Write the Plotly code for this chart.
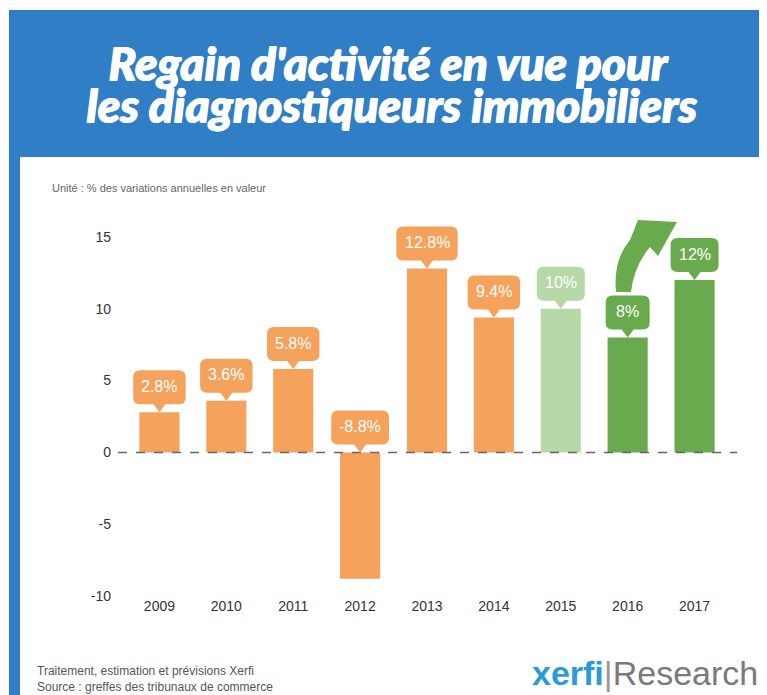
import plotly.graph_objects as go

years = ["2009", "2010", "2011", "2012", "2013", "2014", "2015", "2016", "2017"]
values = [2.8, 3.6, 5.8, -8.8, 12.8, 9.4, 10, 8, 12]
labels = ["2.8%", "3.6%", "5.8%", "-8.8%", "12.8%", "9.4%", "10%", "8%", "12%"]
ORANGE = "#F4A25C"
LIGHTGREEN = "#B7D9A8"
GREEN = "#6AAA4E"
colors = [ORANGE] * 6 + [LIGHTGREEN] + [GREEN] * 2
ytick_vals = [-10, -5, 0, 5, 10, 15]
ytick_text = ["-10", "-5", "0", "5", "10", "15"]

OFF = 8  # page offset of the figure in the screenshot
YMIN, YMAX = -10, 16.6
W, H = 767 - OFF, 695 - OFF
L = 126 - OFF
R = W - (728 - OFF)
B = H - (596 - OFF)
PX_PER_UNIT = (596 - 237) / 25.0
T = round(596 - OFF - (YMAX - YMIN) * PX_PER_UNIT)
PW, PH = W - L - R, H - T - B


def px(x):
    return (x - OFF - L) / PW


def py(y):
    return (H - B - (y - OFF)) / PH


xs = list(range(len(years)))

fig = go.Figure()
fig.add_trace(go.Bar(x=xs, y=values, marker=dict(color=colors, line=dict(width=0)),
                     width=0.6, hoverinfo="skip"))

BLUE = "#2F7EC6"
shapes = []
shapes.append(dict(type="rect", xref="paper", yref="paper", x0=px(9), x1=px(770), y0=py(700), y1=py(10),
                   fillcolor=BLUE, line=dict(width=0), layer="below"))
shapes.append(dict(type="rect", xref="paper", yref="paper", x0=px(20), x1=px(763), y0=py(700), y1=py(157),
                   fillcolor="white", line=dict(width=0), layer="below"))
shapes.append(dict(type="line", xref="paper", yref="y", x0=px(118), x1=px(737), y0=0, y1=0,
                   line=dict(color="#666666", width=1.5, dash="dash"), layer="above"))

CW = {"0": 0.556, "1": 0.556, "2": 0.556, "3": 0.556, "4": 0.556, "5": 0.556, "6": 0.556,
      "7": 0.556, "8": 0.556, "9": 0.556, ".": 0.278, "%": 0.889, "-": 0.333}
FS = 16


def callout_path(w, h=34, r=7, ph=8, pw=6):
    hw = w / 2
    b = ph
    t = ph + h
    return (f"M 0 0 L {-pw} {b} L {-hw + r} {b} Q {-hw} {b} {-hw} {b + r} "
            f"L {-hw} {t - r} Q {-hw} {t} {-hw + r} {t} L {hw - r} {t} Q {hw} {t} {hw} {t - r} "
            f"L {hw} {b + r} Q {hw} {b} {hw - r} {b} L {pw} {b} Z")


annotations = []
for i, (v, lab, c) in enumerate(zip(values, labels, colors)):
    top = max(v, 0)
    tw = sum(CW.get(ch, 0.556) for ch in lab) * FS
    shapes.append(dict(type="path", xref="x", yref="y", xsizemode="pixel", ysizemode="pixel",
                       xanchor=i, yanchor=top, path=callout_path(max(tw + 16, 44)), fillcolor=c,
                       line=dict(width=0), layer="above"))
    annotations.append(dict(x=i, y=top, xref="x", yref="y", text=lab, showarrow=False,
                            yshift=26, font=dict(color="white", size=FS, family="Liberation Sans")))

arrow_pts = [
    ("M", 616, 292), ("Q", 613, 260, 630, 240), ("L", 638, 220), ("L", 677, 222),
    ("L", 658, 256), ("L", 650, 247), ("Q", 634, 266, 631, 292), ("Z",)
]
parts = []
for p in arrow_pts:
    if p[0] == "Z":
        parts.append("Z")
    elif p[0] == "Q":
        parts.append(f"Q {px(p[1])} {py(p[2])} {px(p[3])} {py(p[4])}")
    else:
        parts.append(f"{p[0]} {px(p[1])} {py(p[2])}")
shapes.append(dict(type="path", xref="paper", yref="paper", path=" ".join(parts),
                   fillcolor=GREEN, line=dict(width=0), layer="above"))

TFONT = dict(family="Lato", size=46, color="white", weight=900, style="italic",
             shadow="1px 0px 0px white, 0px 1px 0px white, 1px 1px 0px white")
annotations.append(dict(xref="paper", yref="paper", x=px(388), y=py(62), text="Regain d'activité en vue pour",
                        showarrow=False, xanchor="center", yanchor="middle", font=TFONT))
annotations.append(dict(xref="paper", yref="paper", x=px(391), y=py(104), text="les diagnostiqueurs immobiliers",
                        showarrow=False, xanchor="center", yanchor="middle", font=TFONT))
annotations.append(dict(xref="paper", yref="paper", x=px(50), y=py(188), text="Unité : % des variations annuelles en valeur",
                        showarrow=False, xanchor="left", yanchor="middle",
                        font=dict(family="Liberation Sans", size=11, color="#666666")))
annotations.append(dict(xref="paper", yref="paper", x=px(35), y=py(679),
                        text="Traitement, estimation et prévisions Xerfi<br>Source : greffes des tribunaux de commerce",
                        showarrow=False, xanchor="left", yanchor="middle", align="left",
                        font=dict(family="Liberation Sans", size=12, color="#555555")))
annotations.append(dict(xref="paper", yref="paper", x=px(760), y=py(673),
                        text="<b><span style='color:#2A9AD8'>xerfi</span></b><span style='color:#999999'>|</span><span style='color:#7a7a7a'>Research</span>",
                        showarrow=False, xanchor="right", yanchor="middle",
                        font=dict(family="Liberation Sans", size=34, color="#777777")))

fig.update_layout(
    width=W, height=H, margin=dict(l=L, r=R, t=T, b=B),
    paper_bgcolor="white", plot_bgcolor="rgba(0,0,0,0)",
    showlegend=False, shapes=shapes, annotations=annotations,
    xaxis=dict(tickmode="array", tickvals=xs, ticktext=years, range=[-0.5, 8.5],
               showgrid=False, zeroline=False, showline=False, ticks="",
               tickfont=dict(family="Liberation Sans", size=14, color="#333333")),
    yaxis=dict(range=[YMIN, YMAX], tickmode="array", tickvals=ytick_vals, ticktext=ytick_text,
               showgrid=False, zeroline=False, showline=False, ticks="", ticklabelstandoff=14,
               tickfont=dict(family="Liberation Sans", size=14, color="#333333")),
)
fig.update_traces(cliponaxis=False)

fig.write_html("out.html")
